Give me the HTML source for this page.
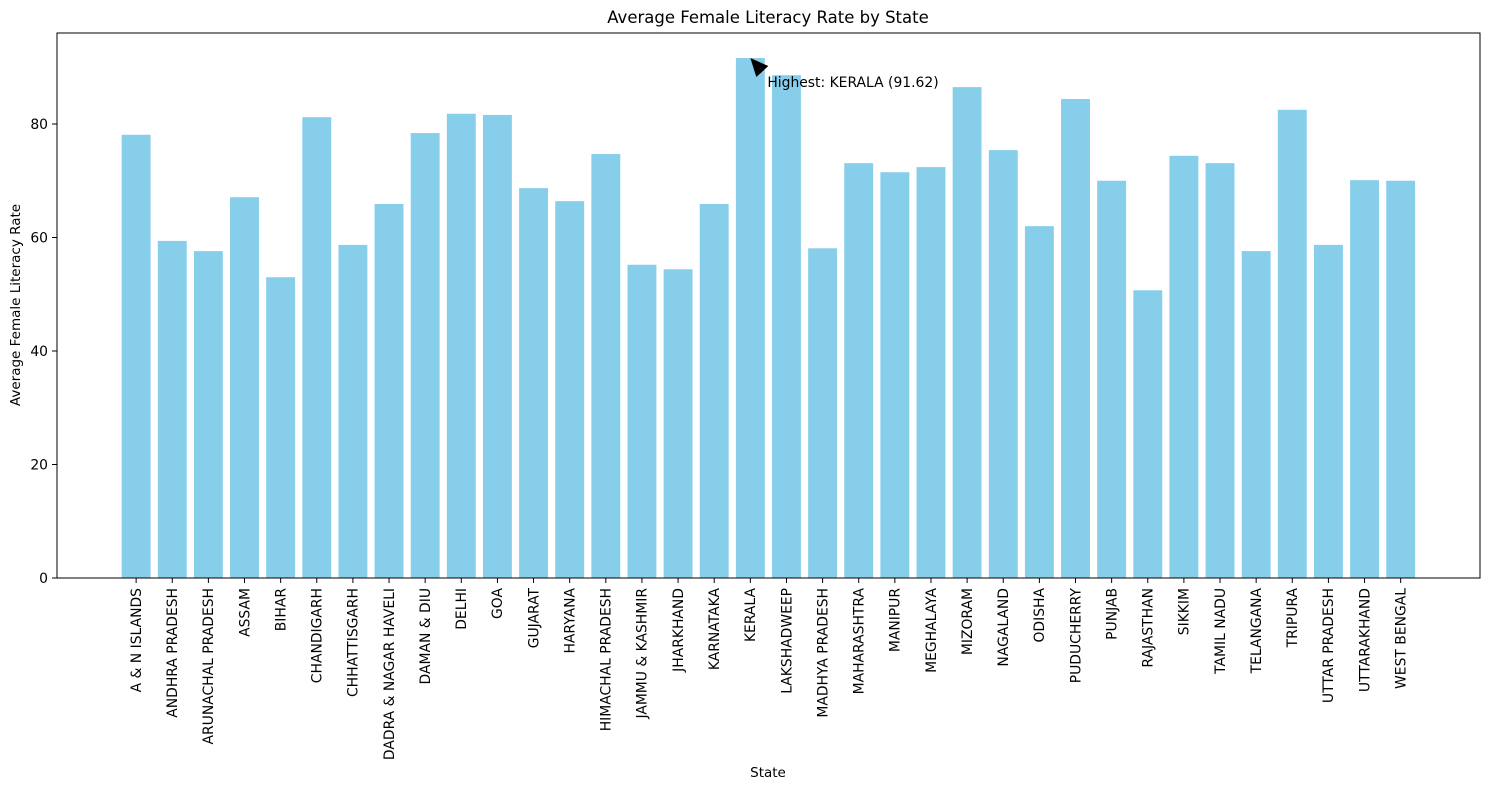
<!DOCTYPE html>
<html><head><meta charset="utf-8"><style>
body{margin:0;background:#fff;}
svg text{font-family:"DejaVu Sans","Liberation Sans",sans-serif;fill:#000;}
</style></head><body>
<svg id="chart" width="1490" height="790" xmlns="http://www.w3.org/2000/svg">
<text x="768" y="23" font-size="16.5" text-anchor="middle">Average Female Literacy Rate by State</text>
<g id="bars"></g>
<g id="yticks"></g>
<g id="xticks"></g>
<rect x="57" y="33" width="1423" height="545" fill="none" stroke="#000" stroke-width="1"/>
<text x="768" y="777" font-size="13.5" text-anchor="middle">State</text>
<text transform="translate(20,305) rotate(-90)" font-size="13.5" text-anchor="middle">Average Female Literacy Rate</text>
<g id="annot"></g>
</svg>
<script>
const categories=["A & N ISLANDS","ANDHRA PRADESH","ARUNACHAL PRADESH","ASSAM","BIHAR","CHANDIGARH","CHHATTISGARH","DADRA & NAGAR HAVELI","DAMAN & DIU","DELHI","GOA","GUJARAT","HARYANA","HIMACHAL PRADESH","JAMMU & KASHMIR","JHARKHAND","KARNATAKA","KERALA","LAKSHADWEEP","MADHYA PRADESH","MAHARASHTRA","MANIPUR","MEGHALAYA","MIZORAM","NAGALAND","ODISHA","PUDUCHERRY","PUNJAB","RAJASTHAN","SIKKIM","TAMIL NADU","TELANGANA","TRIPURA","UTTAR PRADESH","UTTARAKHAND","WEST BENGAL"];
const values=[78.1,59.4,57.6,67.1,53.0,81.2,58.7,65.9,78.4,81.8,81.6,68.7,66.4,74.7,55.2,54.4,65.9,91.62,88.6,58.1,73.1,71.5,72.4,86.5,75.4,62.0,84.4,70.0,50.7,74.4,73.1,57.6,82.5,58.7,70.1,70.0];
const yTicks=[0,20,40,60,80];
const NS="http://www.w3.org/2000/svg";
const y0=578,ppu=5.675,step=36.13,x0=57+2.19*36.13,bw=0.8*36.13;
const ys=v=>y0-v*ppu, xs=i=>x0+i*step;
function mk(tag,attrs,parent){const e=document.createElementNS(NS,tag);for(const k in attrs)e.setAttribute(k,attrs[k]);parent.appendChild(e);return e;}
const gb=document.getElementById('bars'),gy=document.getElementById('yticks'),gx=document.getElementById('xticks'),ga=document.getElementById('annot');
values.forEach((v,i)=>{
 const r=mk('rect',{x:xs(i)-bw/2,y:ys(v),width:bw,height:v*ppu,fill:'#87ceeb'},gb);
 
 
});
categories.forEach((c,i)=>{
 const l=mk('line',{x1:xs(i),x2:xs(i),y1:578,y2:583,stroke:'#000'},gx);
 
 
 const t=mk('text',{transform:`translate(${xs(i)+4.8},588) rotate(-90)`,'font-size':'13.9','text-anchor':'end'},gx);
 t.textContent=c;
 
 
});
yTicks.forEach(v=>{
 const l=mk('line',{x1:52,x2:57,y1:ys(v),y2:ys(v),stroke:'#000'},gy);
 
 
 const t=mk('text',{x:48,y:ys(v)+4.8,'font-size':'13.9','text-anchor':'end'},gy);
 t.textContent=v;
 
 
});
let mi=0;values.forEach((v,i)=>{if(v>values[mi])mi=i;});
const tx=xs(mi),ty=ys(values[mi]);
const ah=mk('polygon',{points:`${tx},${ty} ${tx+18},${ty+8} ${tx+6},${ty+19}`,fill:'#000'},ga);


const at=mk('text',{x:tx+17,y:ty+29,'font-size':'13.9'},ga);
at.textContent=`Highest: ${categories[mi]} (${values[mi].toFixed(2)})`;


</script>
</body></html>
